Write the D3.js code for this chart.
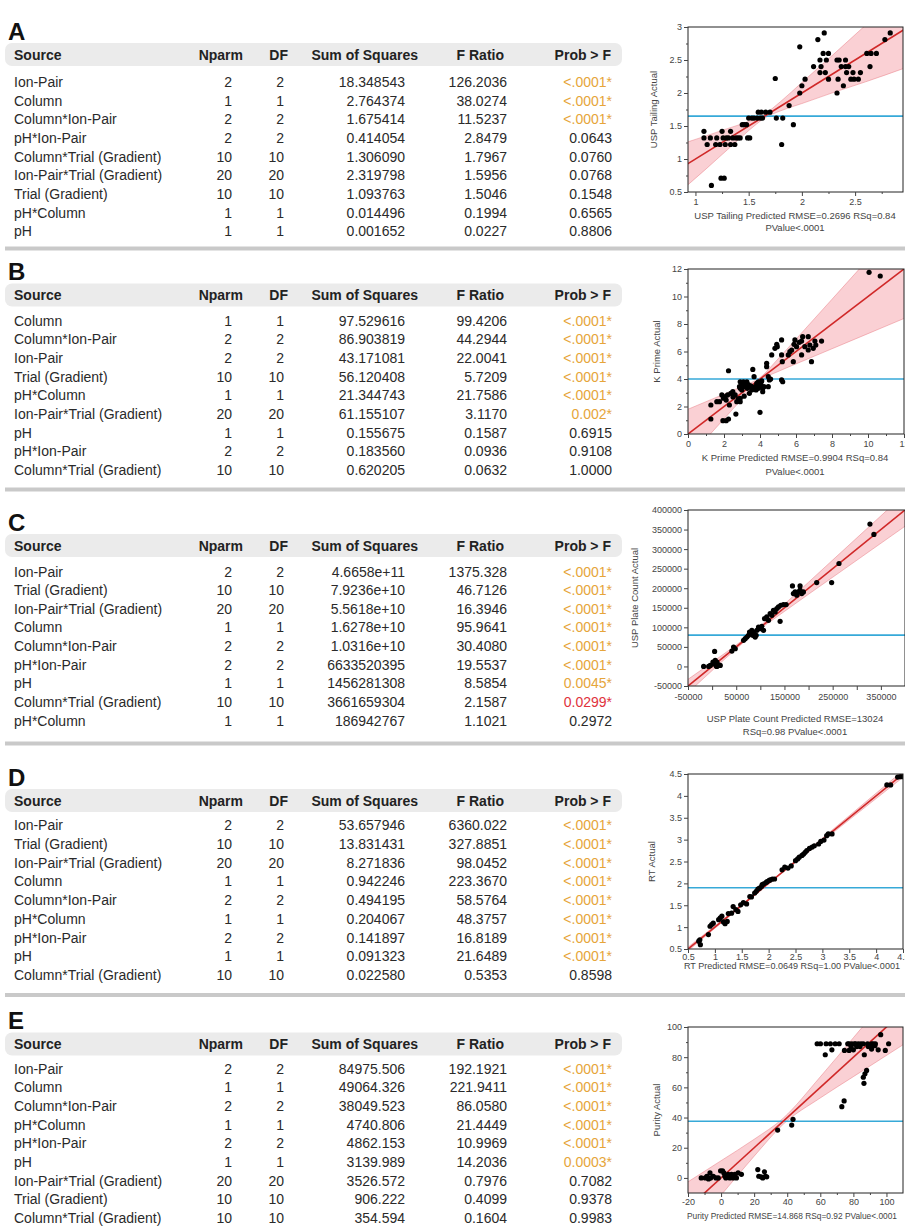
<!DOCTYPE html>
<html><head><meta charset="utf-8">
<script src="https://cdn.jsdelivr.net/npm/d3@7"></script>
<style>body{margin:0;background:#fff}svg{display:block}text{font-family:"Liberation Sans",Arial,Helvetica,sans-serif}</style>
</head><body><svg id="c" width="905" height="1229"></svg>
<script>
// ---------------- TABLE DATA ----------------
const srcA=["Ion-Pair","Column","Column*Ion-Pair","pH*Ion-Pair","Column*Trial (Gradient)","Ion-Pair*Trial (Gradient)","Trial (Gradient)","pH*Column","pH"];
const nparmA=[2,1,2,2,10,20,10,1,1];
const ssA=["18.348543","2.764374","1.675414","0.414054","1.306090","2.319798","1.093763","0.014496","0.001652"];
const fA=["126.2036","38.0274","11.5237","2.8479","1.7967","1.5956","1.5046","0.1994","0.0227"];
const pA=["<.0001*","<.0001*","<.0001*","0.0643","0.0760","0.0768","0.1548","0.6565","0.8806"];

const srcB=["Column","Column*Ion-Pair","Ion-Pair","Trial (Gradient)","pH*Column","Ion-Pair*Trial (Gradient)","pH","pH*Ion-Pair","Column*Trial (Gradient)"];
const nparmB=[1,2,2,10,1,20,1,2,10];
const ssB=["97.529616","86.903819","43.171081","56.120408","21.344743","61.155107","0.155675","0.183560","0.620205"];
const fB=["99.4206","44.2944","22.0041","5.7209","21.7586","3.1170","0.1587","0.0936","0.0632"];
const pB=["<.0001*","<.0001*","<.0001*","<.0001*","<.0001*","0.002*","0.6915","0.9108","1.0000"];

const srcC=["Ion-Pair","Trial (Gradient)","Ion-Pair*Trial (Gradient)","Column","Column*Ion-Pair","pH*Ion-Pair","pH","Column*Trial (Gradient)","pH*Column"];
const nparmC=[2,10,20,1,2,2,1,10,1];
const ssC=["4.6658e+11","7.9236e+10","5.5618e+10","1.6278e+10","1.0316e+10","6633520395","1456281308","3661659304","186942767"];
const fC=["1375.328","46.7126","16.3946","95.9641","30.4080","19.5537","8.5854","2.1587","1.1021"];
const pC=["<.0001*","<.0001*","<.0001*","<.0001*","<.0001*","<.0001*","0.0045*","0.0299*","0.2972"];

const srcD=["Ion-Pair","Trial (Gradient)","Ion-Pair*Trial (Gradient)","Column","Column*Ion-Pair","pH*Column","pH*Ion-Pair","pH","Column*Trial (Gradient)"];
const nparmD=[2,10,20,1,2,1,2,1,10];
const ssD=["53.657946","13.831431","8.271836","0.942246","0.494195","0.204067","0.141897","0.091323","0.022580"];
const fD=["6360.022","327.8851","98.0452","223.3670","58.5764","48.3757","16.8189","21.6489","0.5353"];
const pD=["<.0001*","<.0001*","<.0001*","<.0001*","<.0001*","<.0001*","<.0001*","<.0001*","0.8598"];

const srcE=["Ion-Pair","Column","Column*Ion-Pair","pH*Column","pH*Ion-Pair","pH","Ion-Pair*Trial (Gradient)","Trial (Gradient)","Column*Trial (Gradient)"];
const nparmE=[2,1,2,1,2,1,20,10,10];
const ssE=["84975.506","49064.326","38049.523","4740.806","4862.153","3139.989","3526.572","906.222","354.594"];
const fE=["192.1921","221.9411","86.0580","21.4449","10.9969","14.2036","0.7976","0.4099","0.1604"];
const pE=["<.0001*","<.0001*","<.0001*","<.0001*","<.0001*","0.0003*","0.7082","0.9378","0.9983"];

const headers=["Source","Nparm","DF","Sum of Squares","F Ratio","Prob > F"];

// ---------------- SCATTER DATA ----------------
const ptsA=[[1.08,1.42],[1.08,1.32],[1.11,1.22],[1.14,1.32],[1.15,0.60],[1.19,1.22],[1.20,1.32],[1.23,1.22],[1.25,1.42],[1.24,0.71],[1.27,0.71],[1.26,1.32],[1.28,1.22],[1.29,1.32],[1.31,1.32],[1.33,1.42],[1.33,1.22],[1.35,1.32],[1.37,1.22],[1.38,1.32],[1.40,1.32],[1.42,1.32],[1.44,1.52],[1.46,1.52],[1.48,1.52],[1.49,1.32],[1.51,1.32],[1.50,1.62],[1.53,1.62],[1.55,1.62],[1.58,1.62],[1.59,1.71],[1.61,1.62],[1.63,1.62],[1.62,1.71],[1.66,1.71],[1.70,1.71],[1.75,2.22],[1.76,1.62],[1.81,1.22],[1.82,1.62],[1.88,1.81],[1.92,1.52],[1.98,2.70],[1.98,2.00],[2.00,2.11],[2.03,2.21],[2.11,2.40],[2.15,2.81],[2.17,2.50],[2.18,2.40],[2.17,2.31],[2.21,2.91],[2.20,2.60],[2.25,2.60],[2.23,2.50],[2.22,2.31],[2.25,2.21],[2.33,2.50],[2.35,2.50],[2.33,2.00],[2.34,2.21],[2.37,2.40],[2.41,2.40],[2.41,2.50],[2.39,2.11],[2.42,2.31],[2.44,2.40],[2.46,2.21],[2.49,2.21],[2.53,2.21],[2.48,2.31],[2.55,2.31],[2.61,2.60],[2.65,2.60],[2.70,2.60],[2.64,2.40],[2.78,2.81],[2.83,2.91]];
const ptsB=[[1.27,2.11],[1.27,1.09],[1.6,2.35],[1.75,2.35],[1.88,2.84],[1.97,2.6],[2.07,2.72],[2.2,2.84],[2.12,2.47],[2.25,4.6],[1.94,0.97],[2.12,0.97],[2.25,1.09],[2.3,2.11],[2.38,2.96],[2.49,3.08],[2.62,2.84],[2.66,1.45],[2.71,2.35],[2.9,2.35],[2.9,2.6],[2.86,3.44],[2.99,3.56],[2.99,3.2],[3.08,3.8],[3.17,3.44],[3.23,3.68],[3.3,3.32],[3.27,3.8],[3.41,2.96],[3.54,3.2],[3.6,4.7],[3.67,4.17],[3.73,3.44],[3.78,3.2],[3.91,3.32],[3.97,3.44],[4.04,3.68],[4.0,1.58],[4.15,3.08],[4.22,3.44],[4.37,4.9],[4.37,5.14],[4.46,4.17],[4.46,3.44],[4.52,3.93],[4.59,4.0],[4.65,5.75],[4.83,6.23],[4.93,6.52],[4.96,6.35],[5.2,6.84],[5.2,5.75],[5.24,5.26],[5.2,3.93],[5.26,3.8],[5.57,5.75],[5.66,5.99],[5.76,6.11],[5.85,5.26],[5.89,6.52],[5.94,6.84],[6.03,6.35],[6.18,6.67],[6.31,6.76],[6.37,7.08],[6.31,5.75],[6.49,6.35],[6.68,6.11],[6.68,7.08],[6.77,6.47],[6.86,5.26],[6.96,6.23],[7.05,6.76],[7.1,6.47],[7.42,6.76],[10.06,11.76],[10.68,11.49],[3.08,3.44],[2.9,3.32],[3.49,3.5],[3.63,3.27],[3.82,3.68],[2.9,3.8],[3.91,3.8],[4.1,3.86],[4.15,3.32],[3.0,3.45],[3.35,3.6],[3.12,2.75],[2.8,2.55],[2.5,2.7]];
const ptsC=[[-17600,0],[-7200,0],[-3800,2600],[3100,6800],[5200,38500],[6500,15400],[10000,11100],[10000,0],[13500,4300],[16900,2600],[8600,900],[1700,11100],[41000,39300],[44500,49600],[48000,45300],[65200,66700],[68600,71000],[72100,75200],[75500,79500],[77600,88000],[80400,83800],[82400,92300],[84500,79500],[85900,88000],[89300,75200],[92800,92300],[91400,79500],[96200,100900],[99700,96600],[103100,102600],[106600,92300],[108600,122200],[113400,126500],[116900,118000],[120300,135000],[123800,130800],[127200,143600],[130700,139300],[134100,147900],[137600,152100],[141000,115400],[142400,156400],[147900,158100],[153500,158100],[166600,206000],[168600,186300],[172100,190600],[175500,182100],[179000,190600],[182400,206000],[182400,194900],[185900,186300],[189300,190600],[216900,214500],[247900,214500],[263100,263200],[327300,364100],[335500,337600]];
const ptsD=[[0.70,0.68],[0.73,0.60],[0.72,0.71],[0.88,0.83],[0.91,1.02],[0.94,1.06],[0.97,1.09],[1.07,1.17],[1.10,1.21],[1.13,1.25],[1.16,1.12],[1.19,1.08],[1.23,1.13],[1.25,1.31],[1.31,1.32],[1.34,1.47],[1.39,1.40],[1.43,1.36],[1.48,1.51],[1.53,1.56],[1.59,1.53],[1.65,1.70],[1.68,1.69],[1.74,1.78],[1.77,1.82],[1.80,1.87],[1.83,1.89],[1.87,1.93],[1.88,1.97],[1.91,1.99],[1.95,2.02],[1.97,2.04],[2.01,2.07],[2.03,2.08],[2.07,2.10],[2.11,2.10],[2.25,2.31],[2.30,2.37],[2.36,2.35],[2.42,2.40],[2.50,2.52],[2.54,2.56],[2.57,2.60],[2.62,2.64],[2.65,2.67],[2.68,2.71],[2.71,2.75],[2.76,2.80],[2.81,2.83],[2.85,2.86],[2.93,2.90],[2.97,2.96],[3.03,2.99],[3.08,3.09],[3.11,3.13],[3.18,3.13],[4.20,4.25],[4.27,4.25],[4.40,4.43],[4.45,4.44],[4.50,4.44]];
const ptsE=[[-12,0],[-9.6,0],[-8.6,1.1],[-7.6,-0.7],[-6.7,3.3],[-6.3,0],[-4.7,1.1],[-3.1,0],[-1.7,0],[-0.3,4.7],[0.9,4.7],[1.7,3.3],[2.3,1.1],[2.9,0],[4.3,2.4],[5.3,0],[6.3,2.4],[7.3,0],[8.3,2.4],[9.3,0],[10.3,3.3],[12.3,2.4],[22.2,5.5],[22.8,1.1],[24.2,0.7],[25.2,0],[26.2,4.0],[26.8,1.1],[27.6,0.7],[34.2,31.7],[42.7,35.0],[43.5,38.8],[73,47.2],[74.4,51.0],[86.4,62.7],[86,66.7],[87,69],[88,71.2],[86.6,81.6],[63,81.6],[67,84.9],[74.6,84.5],[77.4,84.5],[80,84.9],[91,85.4],[95,84.9],[99.3,84.5],[101.3,88.9],[96.5,94.9],[93,87.6],[58.1,88.9],[60.1,88.9],[63.5,88.9],[66.1,88.9],[69.0,88.9],[71.4,88.9],[76.6,88.9],[77.4,88.9],[79.0,88.9],[80.6,88.9],[81.4,88.9],[83.0,88.9],[84.6,88.9],[86.0,88.9],[88.6,88.9],[91.0,88.9],[92.0,88.9],[93.3,88.9],[78.6,87],[82,87],[84,87],[89,87],[91,87]];

// confidence band [x, lower, upper]
const bandA=[[0.93,0.61,1.26],[1.1,0.85,1.35],[1.3,1.14,1.46],[1.5,1.43,1.57],[1.65,1.62,1.68],[1.8,1.73,1.87],[2.0,1.84,2.16],[2.3,2.01,2.59],[2.6,2.17,3.03],[2.97,2.38,3.56]];
const bandB=[[0,-1.8,1.8],[1,-0.35,2.35],[2,1.1,2.9],[3,2.54,3.46],[4,3.9,4.1],[5,4.54,5.46],[6,5.1,6.9],[8,6.2,9.8],[10,7.3,12.7],[12,8.4,15.6]];
const bandC=[[-50000,-67000,-33000],[0,-10500,10500],[50000,45000,55000],[80000,77000,83000],[150000,140700,159300],[250000,228000,272000],[400000,358400,441600]];
const bandD=[[0.5,0.458,0.542],[1.0,0.973,1.027],[1.5,1.486,1.514],[1.9,1.892,1.908],[2.5,2.481,2.519],[3.5,3.453,3.547],[4.5,4.424,4.576]];
const bandE=[[-20,-37.4,-2.6],[0,-11.4,11.4],[20,14.4,25.6],[37.5,35.5,39.5],[60,53.0,67.0],[80,67.1,92.9],[110,88.2,131.8]];
// fit line end points and mean line
const fitA=[[0.9,0.9],[3,3]], fitB=[[0,0],[12,12]], fitC=[[-50000,-50000],[400000,400000]], fitD=[[0.5,0.5],[4.5,4.5]], fitE=[[-20,-20],[110,110]];
const meanA=1.65, meanB=4.0, meanC=80000, meanD=1.9, meanE=37.5;

// ticks
const xTicksA=[1,1.5,2,2.5], yTicksA=[0.5,1,1.5,2,2.5,3];
const xTicksB=[0,2,4,6,8,10,12], yTicksB=[0,2,4,6,8,10,12];
const xTicksC=[-50000,0,50000,100000,150000,200000,250000,300000,350000,400000];
const xTickLabelsC=["-50000","","50000","","150000","","250000","","350000",""];
const yTicksC=[-50000,0,50000,100000,150000,200000,250000,300000,350000,400000];
const xTicksD=[0.5,1,1.5,2,2.5,3,3.5,4,4.5], yTicksD=[0.5,1,1.5,2,2.5,3,3.5,4,4.5];
const xTicksE=[-20,0,20,40,60,80,100], yTicksE=[0,20,40,60,80,100];

// ---------------- DRAW ----------------
const svg=d3.select("#c");
const ORANGE="#e6a53a", RED="#e0323c", TXT="#2a2a2a";

function probColor(s){
  if(!s.endsWith("*")) return TXT;
  const v=s.startsWith("<")?0.0001:parseFloat(s);
  return v<0.01?ORANGE:RED;
}

function drawTable(L,src,nparm,ss,f,p){
  const g=svg.append("g");
  g.append("text").attr("x",8).attr("y",L.hc-15).text(L.letter)
    .attr("font-size",24).attr("font-weight","bold").attr("fill","#111");
  g.append("rect").attr("x",5).attr("y",L.hc-11.5).attr("width",617).attr("height",23).attr("rx",7).attr("fill","#ebebeb");
  const hx=[14,243,288,418,504,611];
  headers.forEach((h,i)=>{
    g.append("text").attr("x",hx[i]).attr("y",L.hc+5).text(h)
      .attr("text-anchor",i===0?"start":"end").attr("font-size",14).attr("font-weight","bold").attr("fill","#222");
  });
  const y=d3.scalePoint().domain(d3.range(src.length)).range([L.r0,L.r0+L.step*(src.length-1)]);
  const cols=[
    {x:14,a:"start",v:src,c:()=>TXT},
    {x:232,a:"end",v:nparm,c:()=>TXT},
    {x:284,a:"end",v:nparm,c:()=>TXT},
    {x:405,a:"end",v:ss,c:()=>TXT},
    {x:507,a:"end",v:f,c:()=>TXT},
    {x:612,a:"end",v:p,c:probColor}
  ];
  cols.forEach(col=>{
    g.selectAll(null).data(col.v).join("text")
      .attr("x",col.x).attr("y",(d,i)=>y(i)+5).attr("text-anchor",col.a)
      .attr("font-size",14).attr("fill",d=>col.c(String(d))).text(d=>d);
  });
}

let clipId=0;
function drawScatter(S){
  const g=svg.append("g");
  const x=d3.scaleLinear().domain(S.xd).range([S.x0,S.x1]);
  const y=d3.scaleLinear().domain(S.yd).range([S.y1,S.y0]);
  const id="clip"+(clipId++);
  g.append("clipPath").attr("id",id).append("rect").attr("x",S.x0).attr("y",S.y0).attr("width",S.x1-S.x0).attr("height",S.y1-S.y0);
  const inner=g.append("g").attr("clip-path","url(#"+id+")");
  const area=d3.area().x(d=>x(d[0])).y0(d=>y(d[1])).y1(d=>y(d[2])).curve(d3.curveMonotoneX);
  inner.append("path").attr("d",area(S.band)).attr("fill","rgba(240,110,120,0.32)");
  const lo=d3.line().x(d=>x(d[0])).y(d=>y(d[1])).curve(d3.curveMonotoneX);
  const hi=d3.line().x(d=>x(d[0])).y(d=>y(d[2])).curve(d3.curveMonotoneX);
  inner.append("path").attr("d",lo(S.band)).attr("fill","none").attr("stroke","rgba(230,110,120,0.55)").attr("stroke-width",0.8);
  inner.append("path").attr("d",hi(S.band)).attr("fill","none").attr("stroke","rgba(230,110,120,0.55)").attr("stroke-width",0.8);
  inner.append("line").attr("x1",S.x0).attr("x2",S.x1).attr("y1",y(S.mean)).attr("y2",y(S.mean))
    .attr("stroke","#36a9d8").attr("stroke-width",1.6);
  inner.append("path").attr("d",d3.line().x(d=>x(d[0])).y(d=>y(d[1]))(S.fit)).attr("stroke","#d02828").attr("stroke-width",1.6).attr("fill","none");
  inner.selectAll("circle").data(S.pts).join("circle").attr("cx",d=>x(d[0])).attr("cy",d=>y(d[1])).attr("r",2.6).attr("fill","#000");
  g.append("rect").attr("x",S.x0).attr("y",S.y0).attr("width",S.x1-S.x0).attr("height",S.y1-S.y0)
    .attr("fill","none").attr("stroke","#222").attr("stroke-width",1);
  // axes
  const fmt=S.xLabels?((d,i)=>S.xLabels[i]):(d=>String(d));
  const ax=g.append("g").attr("transform","translate(0,"+S.y1+")")
    .call(d3.axisBottom(x).tickValues(S.xt).tickSize(4).tickPadding(S.xpad).tickFormat(fmt));
  const ay=g.append("g").attr("transform","translate("+S.x0+",0)")
    .call(d3.axisLeft(y).tickValues(S.yt).tickSize(4).tickPadding(2).tickFormat(d=>String(d)));
  if(S.xm){g.append("g").attr("transform","translate(0,"+S.y1+")").call(d3.axisBottom(x).tickValues(S.xm).tickSize(2).tickFormat("")).select(".domain").remove();}
  if(S.ym){g.append("g").attr("transform","translate("+S.x0+",0)").call(d3.axisLeft(y).tickValues(S.ym).tickSize(2).tickFormat("")).select(".domain").remove();}
  [ax,ay].forEach(a=>{a.select(".domain").remove();a.selectAll("text").attr("font-size",9).attr("fill","#444").attr("font-family",'"Liberation Sans",Arial,sans-serif');});
  g.selectAll(".tick line").attr("stroke","#444");
  // labels
  g.append("text").attr("transform","translate("+S.ylx+","+((S.y0+S.y1)/2)+") rotate(-90)")
    .attr("text-anchor","middle").attr("font-size",9.5).attr("fill","#444").text(S.ylab);
  S.xlab.forEach((t,i)=>{
    const tx=g.append("text").attr("x",S.xlc||795).attr("y",S.xly[i]).attr("text-anchor","middle").attr("font-size",9.5).attr("fill","#444").text(t);
    if(S.xlw){tx.attr("font-size",9).attr("textLength",S.xlw).attr("lengthAdjust","spacingAndGlyphs");}
  });
}

// separators
[246.5,487.5,741.5,993].forEach(v=>svg.append("rect").attr("x",5).attr("y",v).attr("width",900).attr("height",4).attr("fill","#c9c9c9"));

drawTable({letter:"A",hc:54.5,r0:82,step:18.65},srcA,nparmA,ssA,fA,pA);
drawTable({letter:"B",hc:295,r0:320.5,step:18.7},srcB,nparmB,ssB,fB,pB);
drawTable({letter:"C",hc:545.5,r0:571.5,step:18.65},srcC,nparmC,ssC,fC,pC);
drawTable({letter:"D",hc:800.5,r0:825,step:18.75},srcD,nparmD,ssD,fD,pD);
drawTable({letter:"E",hc:1044,r0:1068.5,step:18.7},srcE,nparmE,ssE,fE,pE);

drawScatter({x0:688,x1:903,y0:27,y1:192,xd:[0.93,2.95],yd:[0.5,3],xt:xTicksA,yt:yTicksA,xm:[1.25,1.75,2.25,2.75],ym:[0.75,1.25,1.75,2.25,2.75],
  pts:ptsA,band:bandA,fit:fitA,mean:meanA,ylx:657,ylab:"USP Tailing Actual",xlab:["USP Tailing Predicted RMSE=0.2696 RSq=0.84","PValue<.0001"],xly:[219,231],xpad:3});
drawScatter({x0:688,x1:904,y0:269,y1:434,xd:[0,12],yd:[0,12],xt:xTicksB,yt:yTicksB,xm:[1,3,5,7,9,11],ym:[1,3,5,7,9,11],
  pts:ptsB,band:bandB,fit:fitB,mean:meanB,ylx:660,ylab:"K Prime Actual",xlab:["K Prime Predicted RMSE=0.9904 RSq=0.84","PValue<.0001"],xly:[461,475],xpad:3});
drawScatter({x0:688,x1:905,y0:510,y1:686,xd:[-50000,400000],yd:[-50000,400000],xt:xTicksC,xLabels:xTickLabelsC,yt:yTicksC,
  pts:ptsC,band:bandC,fit:fitC,mean:meanC,ylx:638,ylab:"USP Plate Count Actual",xlab:["USP Plate Count Predicted RMSE=13024","RSq=0.98 PValue<.0001"],xly:[722,735],xpad:4});
drawScatter({x0:688,x1:903,y0:774,y1:949,xd:[0.5,4.5],yd:[0.5,4.5],xt:xTicksD,yt:yTicksD,
  pts:ptsD,band:bandD,fit:fitD,mean:meanD,ylx:655,ylab:"RT Actual",xlab:["RT Predicted RMSE=0.0649 RSq=1.00 PValue<.0001"],xly:[969],xpad:1,xlc:792,xlw:216});
drawScatter({x0:688,x1:903,y0:1027,y1:1193,xd:[-20,110],yd:[-10,100],xt:xTicksE,yt:yTicksE,xm:[-10,10,30,50,70,90],ym:[10,30,50,70,90],
  pts:ptsE,band:bandE,fit:fitE,mean:meanE,ylx:660,ylab:"Purity Actual",xlab:["Purity Predicted RMSE=14.868 RSq=0.92 PValue<.0001"],xly:[1219],xpad:2,xlc:792,xlw:210});
</script></body></html>
